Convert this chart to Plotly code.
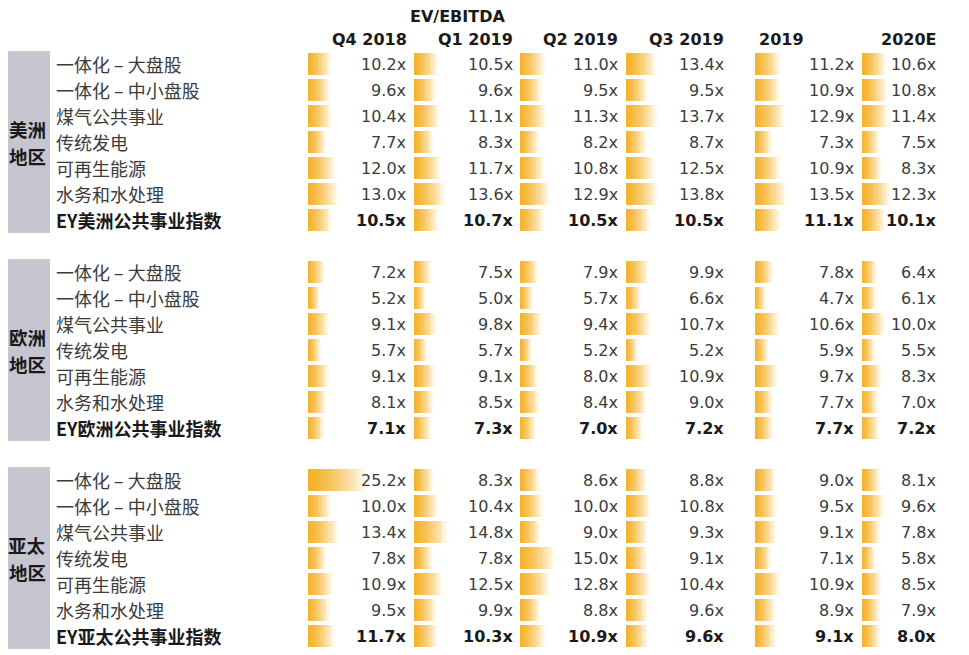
import plotly.graph_objects as go

# ---------------- data ----------------
header_title = "EV/EBITDA"
columns = ["Q4 2018", "Q1 2019", "Q2 2019", "Q3 2019", "2019", "2020E"]
region_names = [("美洲", "地区"), ("欧洲", "地区"), ("亚太", "地区")]
row_labels = ["一体化 – 大盘股", "一体化 – 中小盘股", "煤气公共事业", "传统发电", "可再生能源", "水务和水处理"]
index_labels = ["EY美洲公共事业指数", "EY欧洲公共事业指数", "EY亚太公共事业指数"]

americas = [
    [10.2, 10.5, 11.0, 13.4, 11.2, 10.6],
    [9.6, 9.6, 9.5, 9.5, 10.9, 10.8],
    [10.4, 11.1, 11.3, 13.7, 12.9, 11.4],
    [7.7, 8.3, 8.2, 8.7, 7.3, 7.5],
    [12.0, 11.7, 10.8, 12.5, 10.9, 8.3],
    [13.0, 13.6, 12.9, 13.8, 13.5, 12.3],
    [10.5, 10.7, 10.5, 10.5, 11.1, 10.1],
]
europe = [
    [7.2, 7.5, 7.9, 9.9, 7.8, 6.4],
    [5.2, 5.0, 5.7, 6.6, 4.7, 6.1],
    [9.1, 9.8, 9.4, 10.7, 10.6, 10.0],
    [5.7, 5.7, 5.2, 5.2, 5.9, 5.5],
    [9.1, 9.1, 8.0, 10.9, 9.7, 8.3],
    [8.1, 8.5, 8.4, 9.0, 7.7, 7.0],
    [7.1, 7.3, 7.0, 7.2, 7.7, 7.2],
]
apac = [
    [25.2, 8.3, 8.6, 8.8, 9.0, 8.1],
    [10.0, 10.4, 10.0, 10.8, 9.5, 9.6],
    [13.4, 14.8, 9.0, 9.3, 9.1, 7.8],
    [7.8, 7.8, 15.0, 9.1, 7.1, 5.8],
    [10.9, 12.5, 12.8, 10.4, 10.9, 8.5],
    [9.5, 9.9, 8.8, 9.6, 8.9, 7.9],
    [11.7, 10.3, 10.9, 9.6, 9.1, 8.0],
]
region_values = [americas, europe, apac]

# ---------------- layout constants ----------------
W, H = 969, 655
OFF = 8  # page body margin
bar_start = [308, 414, 520, 626, 755, 862]
value_right = [408, 515, 620, 726, 856, 938]
header_x = [409, 515, 620, 726, 757, 938]
header_anchor = ["right", "right", "right", "right", "left", "right"]
region_first_y = [64, 272, 480]
pitch = 26
bar_h = 22
px_per_unit = 2.35
n_seg = 18
base_rgb = (245, 178, 42)

LATIN = "DejaVu Sans, Noto Sans CJK SC"
CJK = "Noto Sans CJK SC, DejaVu Sans"
TXT = "#3c3c3c"

fig = go.Figure()

# gradient bars: each bar split into segments fading to white
ys, lens, starts = [], [], []
for r, vals in enumerate(region_values):
    for i, row in enumerate(vals):
        y = region_first_y[r] + i * pitch
        for c, v in enumerate(row):
            ys.append(y)
            lens.append(v * px_per_unit)
            starts.append(bar_start[c])

for k in range(n_seg):
    t = (k + 0.5) / n_seg
    w = t ** 1.5
    col = tuple(round(base_rgb[j] * (1 - w) + 255 * w) for j in range(3))
    fig.add_trace(go.Bar(
        orientation="h",
        y=ys,
        x=[L / n_seg for L in lens],
        base=[s + L * k / n_seg for s, L in zip(starts, lens)],
        width=bar_h,
        marker=dict(color="rgb(%d,%d,%d)" % col, line=dict(width=0)),
        hoverinfo="skip",
        showlegend=False,
    ))

annotations = []
shapes = []

# header
annotations.append(dict(x=457, y=16, text=header_title, showarrow=False,
                        xanchor="center", yanchor="middle",
                        font=dict(family=LATIN, size=16, color="#1a1a1a", weight="bold")))
for c, name in enumerate(columns):
    annotations.append(dict(x=header_x[c], y=39, text=name, showarrow=False,
                            xanchor=header_anchor[c], yanchor="middle",
                            font=dict(family=LATIN, size=16, color="#1a1a1a", weight="bold")))

for r, vals in enumerate(region_values):
    y0 = region_first_y[r]
    top = y0 - pitch / 2
    bottom = y0 + (len(vals) - 1) * pitch + pitch / 2
    shapes.append(dict(type="rect", xref="x", yref="y", x0=4, x1=50, y0=top, y1=bottom,
                       fillcolor="#c6c6d0", line=dict(width=0), layer="below"))
    mid = (top + bottom) / 2
    for j, part in enumerate(region_names[r]):
        annotations.append(dict(x=27, y=mid + (j - 0.5) * 27, text=part, showarrow=False,
                                xanchor="center", yanchor="middle",
                                font=dict(family=CJK, size=18.5, color="#1a1a1a", weight="bold")))
    labels = row_labels + [index_labels[r]]
    for i, row in enumerate(vals):
        y = y0 + i * pitch
        bold = i == len(vals) - 1
        annotations.append(dict(x=54, y=y, text=labels[i], showarrow=False,
                                xanchor="left", yanchor="middle",
                                font=dict(family=CJK, size=18,
                                          color="#1a1a1a" if bold else TXT,
                                          weight="bold" if bold else "normal")))
        for c, v in enumerate(row):
            annotations.append(dict(x=value_right[c], y=y, text="%.1fx" % v, showarrow=False,
                                    xanchor="right", yanchor="middle",
                                    font=dict(family=LATIN, size=16,
                                              color="#1a1a1a" if bold else TXT,
                                              weight="bold" if bold else "normal")))

fig.update_layout(
    width=W - OFF, height=H - OFF,
    margin=dict(l=0, r=0, t=0, b=0),
    paper_bgcolor="white", plot_bgcolor="white",
    barmode="overlay",
    bargap=0,
    xaxis=dict(range=[OFF, W], visible=False, fixedrange=True),
    yaxis=dict(range=[H, OFF], visible=False, fixedrange=True),
    annotations=annotations,
    shapes=shapes,
    showlegend=False,
)

fig.write_html("out.html")
